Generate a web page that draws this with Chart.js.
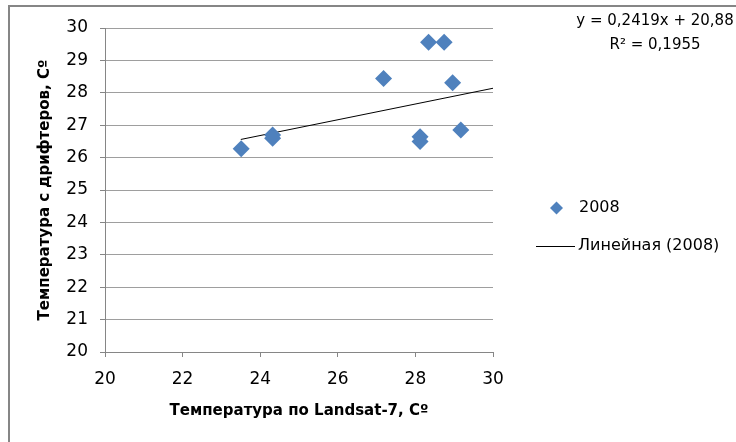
<!DOCTYPE html>
<html>
<head>
<meta charset="utf-8">
<script src="https://cdn.jsdelivr.net/npm/chart.js@4"></script>
<style>
	html, body { margin: 0; padding: 0; background: #ffffff; }
	#wrap { width: 736px; height: 442px; position: relative; }
</style>
</head>
<body>
<div id="wrap"><canvas id="chart" width="736" height="442"></canvas></div>
<script>
// readings for 2008, Landsat-7 vs drifters
const landsatTemps = [23.51, 24.32, 24.32, 27.18, 28.34, 28.74, 28.96, 28.12, 28.12, 29.17];
const drifterTemps = [26.27, 26.70, 26.60, 28.44, 29.56, 29.56, 28.31, 26.64, 26.50, 26.85];

// linear trend endpoints as drawn on the picture
const trendX = [23.5, 30];
const trendY = [26.56, 28.14];

const seriesName = '2008';
const trendName = 'Линейная (2008)';
const equationLines = ['y = 0,2419x + 20,88', 'R² = 0,1955'];
const xTitle = 'Температура по Landsat-7, Сº';
const yTitle = 'Температура с дрифтеров, Сº';

const blue = '#4f81bd';
const gray = '#868686';
const gridGray = '#9e9e9e';
const font = 'DejaVu Sans';

// legend, trend equation and outer frame drawn on top of the chart
const extrasPlugin = {
	id: 'extras',
	afterDraw(chart) {
		const ctx = chart.ctx;
		ctx.save();
		// outer frame (left and top edges only are visible)
		ctx.strokeStyle = gray;
		ctx.lineWidth = 2;
		ctx.beginPath();
		ctx.moveTo(9, 442);
		ctx.lineTo(9, 6);
		ctx.lineTo(736, 6);
		ctx.stroke();

		// equation
		ctx.fillStyle = '#000000';
		ctx.font = '15px "' + font + '"';
		ctx.textAlign = 'center';
		ctx.textBaseline = 'middle';
		ctx.fillText(equationLines[0], 655, 21);
		ctx.fillText(equationLines[1], 655, 45);

		// legend
		ctx.fillStyle = blue;
		ctx.beginPath();
		ctx.moveTo(556.5, 201.5);
		ctx.lineTo(563, 208);
		ctx.lineTo(556.5, 214.5);
		ctx.lineTo(550, 208);
		ctx.closePath();
		ctx.fill();
		ctx.strokeStyle = '#000000';
		ctx.lineWidth = 1;
		ctx.beginPath();
		ctx.moveTo(536, 246.5);
		ctx.lineTo(575, 246.5);
		ctx.stroke();
		ctx.fillStyle = '#000000';
		ctx.font = '16px "' + font + '"';
		ctx.textAlign = 'left';
		ctx.fillText(seriesName, 579, 208);
		ctx.fillText(trendName, 578, 246);
		ctx.restore();
	}
};

const chart = new Chart(document.getElementById('chart'), {
	type: 'scatter',
	data: {
		datasets: [
			{
				label: seriesName,
				data: landsatTemps.map((x, i) => ({ x: x, y: drifterTemps[i] })),
				pointStyle: 'rectRot',
				pointRadius: 8.5,
				pointHoverRadius: 8.5,
				backgroundColor: blue,
				borderColor: blue,
				borderWidth: 0
			},
			{
				type: 'line',
				label: trendName,
				data: trendX.map((x, i) => ({ x: x, y: trendY[i] })),
				borderColor: '#000000',
				borderWidth: 1,
				pointRadius: 0,
				fill: false
			}
		]
	},
	options: {
		responsive: false,
		animation: false,
		layout: { padding: { top: 28, right: 243, left: 0, bottom: 0 } },
		plugins: {
			legend: { display: false },
			tooltip: { enabled: false }
		},
		scales: {
			x: {
				type: 'linear',
				min: 20,
				max: 30,
				ticks: { stepSize: 2, padding: 12, color: '#000000', font: { family: font, size: 17 } },
				grid: { drawOnChartArea: false, drawTicks: true, tickLength: 5, tickColor: gray },
				border: { color: gray },
				title: {
					display: true,
					text: xTitle,
					color: '#000000',
					font: { family: font, size: 15, weight: 'bold' },
					padding: { top: 0, bottom: 22 }
				},
				afterFit(scale) { scale.height = 90; }
			},
			y: {
				type: 'linear',
				min: 20,
				max: 30,
				ticks: { stepSize: 1, padding: 12, color: '#000000', font: { family: font, size: 17 } },
				grid: { color: gridGray, tickLength: 5, tickColor: gray },
				border: { color: gray },
				title: {
					display: true,
					text: yTitle,
					color: '#000000',
					font: { family: font, size: 15, weight: 'bold' },
					padding: { top: 36, bottom: 0 }
				},
				afterFit(scale) { scale.width = 105; }
			}
		}
	},
	plugins: [extrasPlugin]
});
</script>
</body>
</html>
